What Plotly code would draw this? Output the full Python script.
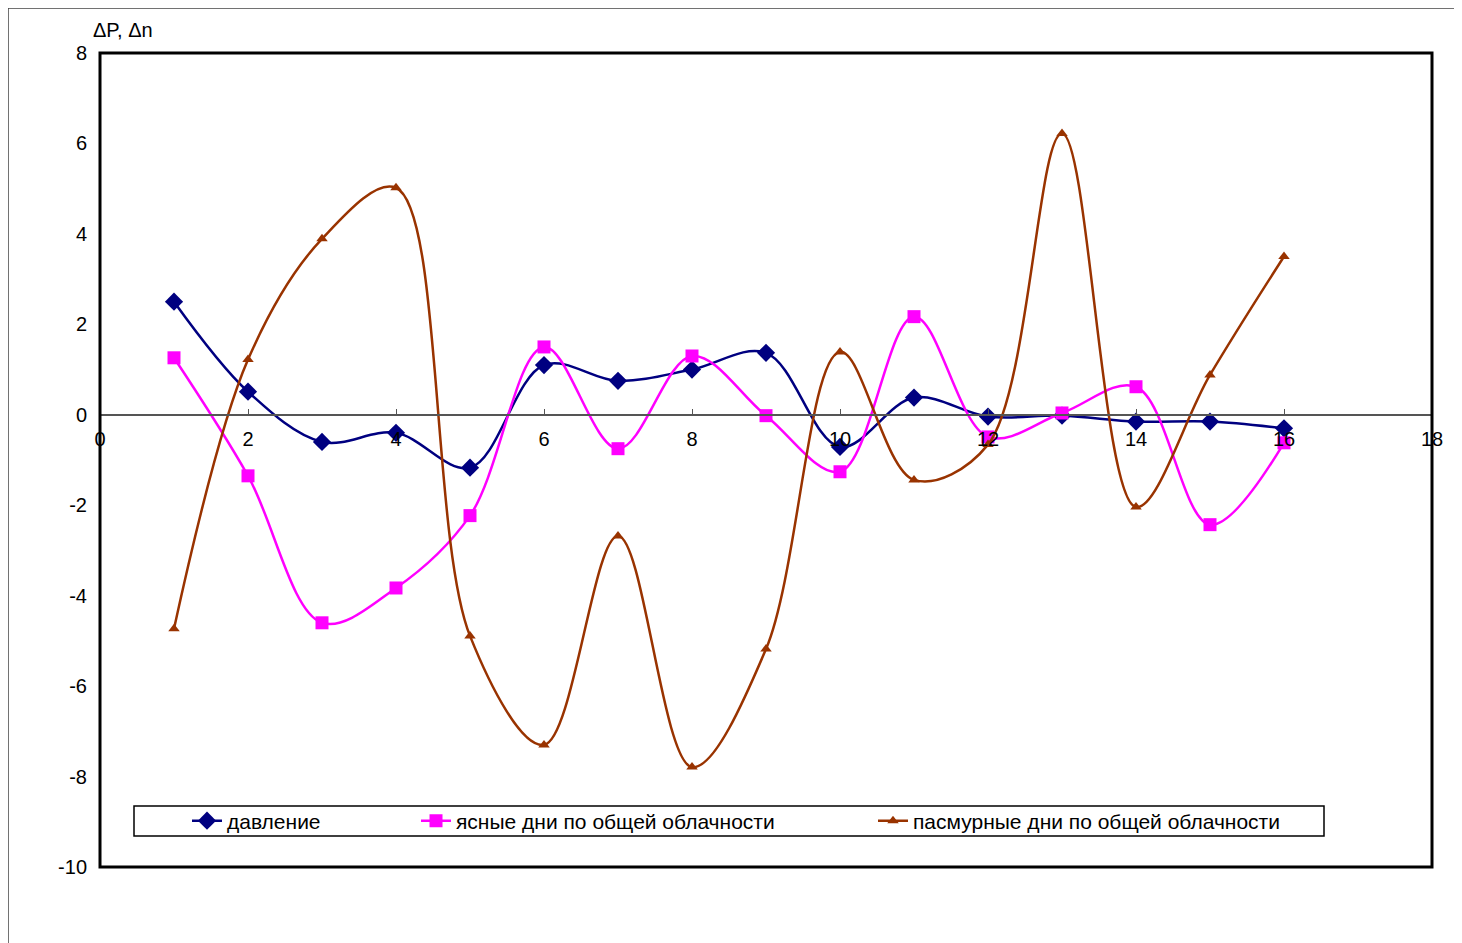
import plotly.graph_objects as go

x_vals = list(range(1, 17))
pressure = [2.5, 0.51, -0.6, -0.4, -1.17, 1.1, 0.75, 1.0, 1.37, -0.71, 0.38, -0.04, -0.02, -0.15, -0.15, -0.3]
clear_days = [1.26, -1.35, -4.6, -3.83, -2.23, 1.5, -0.75, 1.3, -0.02, -1.26, 2.17, -0.49, 0.04, 0.62, -2.43, -0.62]
cloudy_days = [-4.73, 1.22, 3.89, 5.02, -4.89, -7.3, -2.68, -7.79, -5.18, 1.39, -1.44, -0.66, 6.22, -2.04, 0.88, 3.5]

y_ticks = [-10, -8, -6, -4, -2, 0, 2, 4, 6, 8]
y_tick_labels = ["-10", "-8", "-6", "-4", "-2", "0", "2", "4", "6", "8"]
x_ticks = [0, 2, 4, 6, 8, 10, 12, 14, 16, 18]

names = ["давление", "ясные дни по общей облачности", "пасмурные дни по общей облачности"]
colors = ["#000080", "#FF00FF", "#993300"]
symbols = ["diamond", "square", "triangle-up"]
msizes = [14, 13, 10]
series = [pressure, clear_days, cloudy_days]
legends = ["legend", "legend2", "legend3"]

FONT = "Liberation Sans, Arial, sans-serif"
FS = 20
LFS = 21

fig = go.Figure()
for name, col, sym, ms, ys, lg in zip(names, colors, symbols, msizes, series, legends):
    fig.add_trace(go.Scatter(
        x=x_vals, y=ys, name=name, mode="lines+markers",
        line=dict(color=col, width=2.5, shape="spline", smoothing=1.0),
        marker=dict(color=col, symbol=sym, size=ms),
        legend=lg,
    ))

OFF = 8  # page offset
W, H = 1462, 943
L, R, T, B = 100 - OFF, 38, 53 - OFF, 84
pw, ph = W - L - R, H - T - B

def px_x(p):  # p in reference pixel coords
    return (p - OFF - L) / pw

def px_y(p):
    return (H - B - (p - OFF)) / ph

leg_common = dict(orientation="h", yanchor="middle", xanchor="left",
                  bgcolor="rgba(0,0,0,0)", borderwidth=0,
                  font=dict(family=FONT, size=LFS, color="black"))

fig.update_layout(
    width=W, height=H,
    margin=dict(l=L, r=R, t=T, b=B),
    paper_bgcolor="white", plot_bgcolor="white",
    font=dict(family=FONT, size=FS, color="black"),
    xaxis=dict(range=[0, 18], tickvals=x_ticks, ticktext=[str(v) for v in x_ticks],
               anchor="free", position=10/18,
               showline=True, linecolor="#555555", linewidth=2,
               ticks="inside", ticklen=5, tickcolor="#555555", tickwidth=1,
               ticklabelstandoff=6,
               showgrid=False, zeroline=False,
               tickfont=dict(family=FONT, size=FS, color="black")),
    yaxis=dict(range=[-10, 8], tickvals=y_ticks, ticktext=y_tick_labels,
               showline=False, showgrid=False, zeroline=False, ticks="",
               ticklabelstandoff=12,
               tickfont=dict(family=FONT, size=FS, color="black")),
    legend=dict(x=px_x(187), y=px_y(821), **leg_common),
    legend2=dict(x=px_x(416), y=px_y(821), **leg_common),
    legend3=dict(x=px_x(873), y=px_y(821), **leg_common),
    showlegend=True,
)

# plot frame
fig.add_shape(type="rect", xref="paper", yref="paper", x0=0, y0=0, x1=1, y1=1,
              line=dict(color="black", width=3), layer="above")
# outer chart border (open on the right and bottom)
fig.add_shape(type="rect", xref="paper", yref="paper",
              x0=px_x(8), y0=px_y(990), x1=px_x(1540), y1=px_y(8),
              line=dict(color="#444444", width=1.5), layer="below")
# legend box
fig.add_shape(type="rect", xref="paper", yref="paper",
              x0=px_x(134), y0=px_y(836), x1=px_x(1324), y1=px_y(806),
              line=dict(color="black", width=1.5), fillcolor="white", layer="below")

fig.add_annotation(text="ΔP, Δn", xref="paper", yref="paper",
                   x=px_x(123), y=px_y(30), showarrow=False,
                   xanchor="center", yanchor="middle",
                   font=dict(family=FONT, size=FS, color="black"))

fig.write_html("out.html")
